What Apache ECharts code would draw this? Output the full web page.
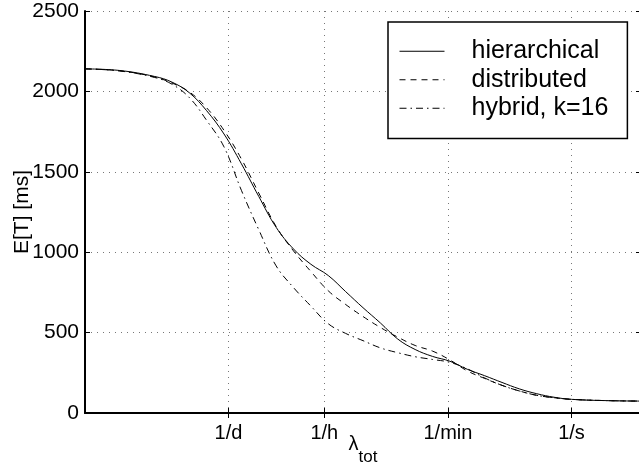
<!DOCTYPE html>
<html>
<head>
<meta charset="utf-8">
<script src="https://cdn.jsdelivr.net/npm/echarts@6/dist/echarts.min.js"></script>
<style>
  html, body { margin: 0; padding: 0; background: #fff; }
  #chart { width: 639px; height: 465px; }
</style>
</head>
<body>
<div id="chart"></div>
<script>
// lambda_tot as log10 of events per second
const logLambda = [-7, -6.5, -6, -5.75, -5.5, -5.25, -5, -4.75, -4.5, -4.25, -4, -3.75, -3.5, -3.25, -3, -2.75, -2.5, -2.25, -2, -1.75, -1.5, -1.25, -1, -0.75, -0.5, -0.25, 0, 0.5, 1];
// E[T] in ms
const hierarchical = [2140, 2130, 2093, 2058, 1992, 1880, 1735, 1550, 1347, 1155, 1020, 925, 855, 755, 655, 560, 460, 395, 352, 322, 272, 232, 190, 150, 120, 98, 85, 77, 74];
const distributed  = [2140, 2128, 2090, 2052, 1997, 1898, 1758, 1580, 1368, 1160, 1008, 880, 760, 675, 600, 532, 472, 420, 385, 330, 262, 215, 172, 137, 110, 95, 85, 77, 74];
const hybrid       = [2140, 2127, 2087, 2045, 1962, 1820, 1655, 1385, 1140, 915, 780, 665, 555, 495, 450, 405, 375, 350, 333, 315, 275, 218, 172, 137, 110, 95, 85, 77, 74];

const tickVals = [1 / 86400, 1 / 3600, 1 / 60, 1];
const tickNames = ['1/d', '1/h', '1/min', '1/s'];

const FONT = 'Liberation Sans, Arial, Helvetica, sans-serif';

function pairs(ys) {
  return logLambda.map((l, i) => [Math.pow(10, l), ys[i]]);
}
function tickName(v) {
  const lv = Math.log10(v);
  for (let i = 0; i < tickVals.length; i++) {
    if (Math.abs(lv - Math.log10(tickVals[i])) < 1e-6) return tickNames[i];
  }
  return '';
}

const chart = echarts.init(document.getElementById('chart'), null, { renderer: 'canvas' });

const dotted = { color: '#777', width: 1, type: [1, 5] };

const option = {
  animation: false,
  backgroundColor: '#fff',
  grid: { left: 85, right: -2, top: 11, bottom: 52, containLabel: false, outerBoundsMode: 'none' },
  legend: {
    left: 388, top: 22, orient: 'vertical',
    backgroundColor: '#fff', borderColor: '#000', borderWidth: 1.5,
    padding: [15, 19, 16, 11],
    itemWidth: 45, itemHeight: 14, itemGap: 0,
    itemStyle: { opacity: 0 },
    lineStyle: { width: 1 },
    data: ['hierarchical', 'distributed', 'hybrid, k=16'],
    formatter: n => '{t|' + n + '}',
    textStyle: {
      color: '#000', fontFamily: FONT, fontSize: 25, lineHeight: 28.5,
      rich: { t: { color: '#000', fontFamily: FONT, fontSize: 25, lineHeight: 28.5, padding: [0, 0, 0, 22] } }
    }
  },
  xAxis: [
    {
      type: 'log', logBase: 10, min: 1e-7, max: 10, position: 'bottom',
      axisLine: { lineStyle: { color: '#000', width: 2 } },
      axisTick: { inside: true, length: 5, customValues: tickVals, lineStyle: { color: '#000' } },
      axisLabel: { customValues: tickVals, formatter: tickName, color: '#000', fontFamily: FONT, fontSize: 20, margin: 10 },
      splitLine: { show: true, lineStyle: dotted },
      minorTick: { show: false },
      name: '{l|λ}{s|tot}', nameLocation: 'middle', nameGap: 33, nameMoveOverlap: false,
      nameTextStyle: {
        rich: {
          l: { fontFamily: FONT, fontSize: 20, lineHeight: 23, color: '#000', padding: [0, 0, 26, 0] },
          s: { fontFamily: FONT, fontSize: 17, lineHeight: 19, color: '#000' }
        }
      }
    },
    {
      type: 'log', logBase: 10, min: 1e-7, max: 10, position: 'top',
      axisLine: { lineStyle: { color: '#000', width: 1 } },
      axisTick: { inside: true, length: 5, customValues: tickVals, lineStyle: { color: '#000' } },
      axisLabel: { show: false },
      splitLine: { show: false }
    }
  ],
  yAxis: [
    {
      type: 'value', min: 0, max: 2500, interval: 500, position: 'left',
      axisLine: { show: true, lineStyle: { color: '#000', width: 2 } },
      axisTick: { show: true, inside: true, length: 5, lineStyle: { color: '#000' } },
      axisLabel: { color: '#000', fontFamily: FONT, fontSize: 21, margin: 6, formatter: v => String(v) },
      splitLine: { show: true, lineStyle: dotted },
      name: 'E[T] [ms]', nameLocation: 'middle', nameRotate: 90, nameGap: 52, nameMoveOverlap: false,
      nameTextStyle: { color: '#000', fontFamily: FONT, fontSize: 21 }
    },
    {
      type: 'value', min: 0, max: 2500, interval: 500, position: 'right',
      axisLine: { show: true, lineStyle: { color: '#000', width: 1 } },
      axisTick: { show: true, inside: true, length: 5, lineStyle: { color: '#000' } },
      axisLabel: { show: false },
      splitLine: { show: false }
    }
  ],
  series: [
    { name: 'hierarchical', type: 'line', data: pairs(hierarchical), symbol: 'none', smooth: 0.4,
      itemStyle: { color: '#000' }, lineStyle: { color: '#000', width: 1, type: 'solid' } },
    { name: 'distributed', type: 'line', data: pairs(distributed), symbol: 'none', smooth: 0.4,
      itemStyle: { color: '#000' }, lineStyle: { color: '#000', width: 1, type: [6, 5] } },
    { name: 'hybrid, k=16', type: 'line', data: pairs(hybrid), symbol: 'none', smooth: 0.4,
      itemStyle: { color: '#000' }, lineStyle: { color: '#000', width: 1, type: [7, 4, 1.5, 4] } }
  ]
};

chart.setOption(option);
</script>
</body>
</html>
